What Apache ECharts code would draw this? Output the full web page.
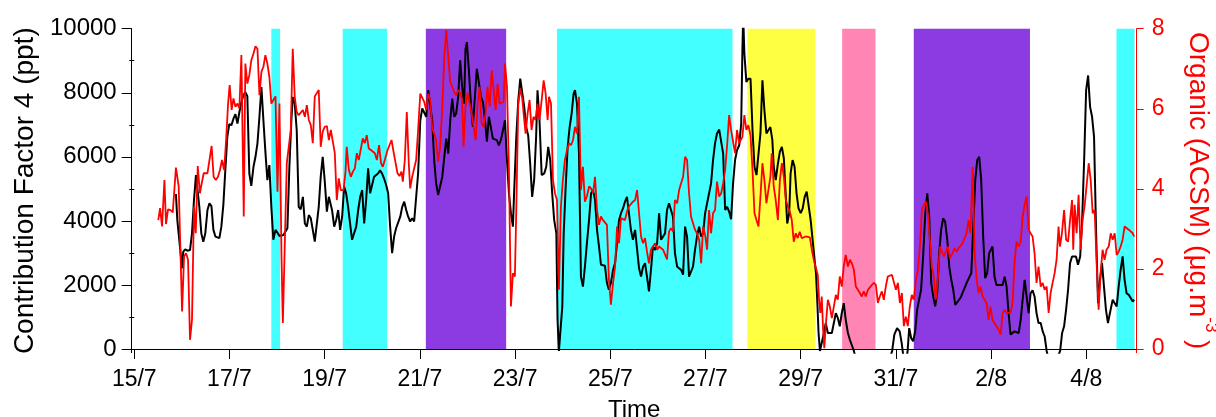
<!DOCTYPE html>
<html>
<head>
<meta charset="utf-8">
<script src="https://cdn.jsdelivr.net/npm/echarts@6/dist/echarts.min.js"></script>
<style>
html,body{margin:0;padding:0;background:#fff;}
#chart{width:1216px;height:417px;}
</style>
</head>
<body>
<div id="chart"></div>
<script>
// Time in hours since 15/7 00:00
var xTickHours = [0,48,96,144,192,240,288,336,384,432,480];
var xTickLabels = ['15/7','17/7','19/7','21/7','23/7','25/7','27/7','29/7','31/7','2/8','4/8'];
var leftTicks = [0,2000,4000,6000,8000,10000];
var leftMinorTicks = [1000,3000,5000,7000,9000];
var rightTicks = [0,2,4,6,8];

// shaded periods [startHour, endHour, colour key]
var bandStart = [69.1,105.1,147.0,213.1,309.1,356.9,393.0,495.2];
var bandEnd   = [73.5,127.5,187.5,301.6,343.4,373.7,451.6,504.3];
var bandKind  = ['cyan','cyan','purple','cyan','yellow','pink','purple','cyan'];

// Contribution Factor 4 (ppt): [hour, value]
var factor4 = [[21.0,4840],[21.7,4030],[23.0,3200],[24.1,2520],[24.7,3040],[25.7,3110],[26.8,3070],[28.1,3090],[29.1,3610],[30.1,4650],[31.1,5430],[32.0,5380],[32.8,4440],[33.8,3610],[34.8,3350],[35.8,3610],[36.9,4340],[37.9,4550],[38.9,4460],[39.9,3720],[40.9,3510],[41.9,3490],[42.9,3460],[43.9,3820],[44.9,4500],[45.9,5580],[46.9,6620],[47.9,7020],[49.0,6990],[50.0,7190],[51.0,7330],[52.0,7040],[53.0,7400],[54.0,7710],[55.0,7920],[56.0,8020],[57.0,7890],[58.0,5480],[59.0,5090],[60.1,5690],[61.1,6000],[62.1,6420],[63.1,7250],[64.1,8180],[65.1,7140],[66.1,6160],[67.1,5270],[68.1,5740],[69.1,4440],[70.1,3410],[71.2,3720],[72.2,3630],[73.2,3530],[74.2,3560],[75.2,3560],[76.2,3590],[77.2,3770],[78.2,5690],[79.2,7140],[79.9,7870],[80.9,7660],[81.9,6830],[82.9,4440],[83.9,4360],[85.0,4750],[86.0,3920],[87.0,3820],[88.0,4180],[89.0,4080],[90.0,3720],[91.0,3350],[92.0,3300],[93.0,4440],[94.0,5380],[95.0,6000],[96.0,5270],[97.1,4290],[98.1,4750],
[99.7,4340],[100.8,3820],[101.8,4030],[102.8,4340],[103.8,3720],[104.8,4130],[105.8,5070],[106.8,4860],[107.8,4440],[108.8,3920],[109.8,3410],[110.8,3410],[111.9,3820],[112.9,4340],[113.9,4750],[114.9,4960],[115.9,3920],[116.9,4650],[117.9,5640],[118.9,4860],[119.9,4810],[120.9,5380],[121.9,5430],[122.9,5480],[123.9,5580],[124.9,5480],[125.9,5330],[127.0,5120],[128.0,4860],[129.0,3820],[130.0,2990],[131.0,3510],[132.0,3770],[133.0,3770],[134.1,4130],[135.1,4440],[136.1,4600],[137.1,4340],[138.1,4130],[139.1,3980],[140.1,4080],[141.1,3980],[142.1,3980],[143.1,5480],[144.2,7140],[145.2,7510],[146.2,7450],[147.2,7250],[148.2,8080],[149.2,8020],[150.2,7140],[151.2,5900],[152.2,5170],[153.2,4810],[154.2,4810],[155.3,5380],[156.3,6000],[157.3,6570],[158.3,6100],[159.3,7140],[160.3,7820],[161.3,7250],[162.3,7350],[163.3,7870],[164.3,9010],[165.3,8180],[166.3,7660],[167.0,9370],[167.7,9580],[168.7,8700],[169.7,7660],[170.7,6930],[171.7,6990],[172.7,8750],[173.7,8800],[174.8,7870],[175.8,7710],[176.8,7140],[177.8,6470],[178.8,7250],[179.8,7300],[180.8,6570],[181.8,6620],[182.8,6520],[183.8,6360],[184.8,6520],[185.9,6830],[186.9,7140],[187.9,5900],[188.9,4860],[189.9,4240],[190.9,3820],[191.5,4860],[192.6,6620],[193.6,7760],[194.6,8440],[195.6,8390],[196.6,7560],[197.6,6930],[198.6,6670],[199.6,5790],[200.6,4750],[201.6,5270],[202.6,6620],[203.3,8080],[204.3,7140],[205.4,5430],
[206.7,5480],[207.7,5690],[208.7,6310],[209.7,5900],[210.7,4860],[211.7,4030],[212.8,3610],[213.4,910],[214.1,-60],[215.1,-60],[215.8,1330],[216.5,3610],[217.5,5070],[218.5,6310],[219.5,6930],[220.5,7350],[221.5,7970],[222.2,8080],[223.2,7660],[224.2,6100],[225.2,2260],[226.2,1950],[227.2,2570],[228.2,3300],[229.3,4030],[230.3,4860],[231.3,4960],[232.3,4650],[233.3,3720],[234.3,3200],[235.3,2630],[236.3,2570],[237.3,2600],[238.3,2060],[239.3,1850],[240.3,2060],[241.4,2470],[242.4,2680],[243.4,3300],[244.4,4030],[245.4,4240],[246.4,4390],[247.4,4600],[248.4,4750],[249.4,4240],[250.4,3720],[251.4,3410],[252.5,3720],[253.5,3770],[254.5,2520],[255.5,2260],[256.5,2570],[257.5,2680],[258.5,2260],[259.5,1800],[260.5,2470],[261.5,3200],[262.6,3090],[263.6,3300],[264.6,4240],[265.6,3410],[266.6,3410],[267.6,3610],[268.6,4340],[269.6,4550],[270.6,4600],[271.6,4130],[272.6,2990],[273.7,2570],[274.7,2520],[275.7,2470],[276.7,2320],[277.7,3820],[278.7,3510],[279.7,2260],[280.7,2210],[281.7,2570],[282.7,3090],[283.7,3510],[284.8,3820],[285.8,3510],[286.8,3610],[287.8,4240],[288.8,4550],[289.8,4600],[290.8,5170],[291.8,5900],[292.8,6420],[293.8,6730],[294.9,6850],[295.9,6880],[296.9,6100],[297.9,4340],[298.9,4440],[299.9,4290],[300.9,4050],[301.9,5170],[302.9,5900],[303.9,6210],[305.0,6360],[306.0,7040],[306.6,9320],[307.0,10400],
[307.6,9220],[308.6,8340],[309.6,8440],[310.7,8440],[311.7,6830],[312.7,5690],[313.7,5430],[314.7,5430],[315.7,6730],[316.7,8390],[317.7,7450],[318.7,6730],[319.7,6830],[320.7,6930],[321.7,6520],[322.4,5690],[323.4,5270],[324.5,5790],[325.5,6160],[326.5,6310],[327.5,5950],[328.5,4750],[329.2,3920],[330.2,4240],[330.9,5480],[331.9,5900],[332.9,5690],[333.9,4860],[334.9,4390],[336.0,4240],[337.0,4390],[338.0,4750],[339.0,4910],[340.0,4860],[341.0,4030],[342.0,3410],[343.0,2780],[343.7,2370],[344.4,1430],[345.0,500],[345.7,-60],[346.7,-60],[347.7,500],[348.6,810],[349.7,500],[350.7,450],[351.7,500],[352.7,810],[353.7,1120],[354.7,970],[355.7,710],[356.7,1120],[357.7,1430],[358.7,910],[359.8,500],[360.8,290],[361.8,290],[362.8,-60],[363.4,-200],[367.0,-900],[372.0,-1400],[378.0,-900],[382.1,-60],[383.2,450],[384.6,650],[385.9,550],[386.9,190],[387.6,-150],[388.9,-500],[389.9,-60],[390.7,650],[391.7,340],[392.7,240],[393.7,550],[394.7,1230],[395.7,1540],[396.7,1850],[397.8,2990],[398.8,4240],[399.8,4860],[400.8,4130],[401.8,2060],[402.8,1640],[403.8,1330],[404.8,1740],[405.8,2990],[406.8,3720],[407.8,4080],[408.8,3980],[409.9,3410],[410.9,2570],[411.9,2160],[412.9,1850],[413.9,1380],[414.9,1380],[415.9,1540],[416.9,1640],[417.9,1800],[418.9,1950],[420.0,2110],[421.0,2060],[422.0,2370],[423.0,3820],[424.0,5270],[425.0,5900],[426.0,6000],[427.0,5270],[428.0,3510],[429.0,2210],[430.0,2370],[431.0,2990],
[432.7,3200],[433.7,2260],[434.7,2000],[435.8,2000],[436.8,1950],[437.8,2000],[438.8,2260],[439.8,1950],[440.8,1120],[441.8,450],[442.8,390],[443.8,550],[444.8,600],[445.9,500],[446.9,910],[447.9,1540],[448.9,2160],[449.9,1640],[450.9,1120],[451.9,1740],[452.9,1830],[453.9,1640],[454.9,1120],[455.9,810],[457.0,810],[458.0,550],[459.0,390],[460.0,-60],[462.0,-600],[464.6,-400],[466.8,-60],[467.8,500],[468.8,710],[469.8,1230],[470.8,1850],[471.8,2680],[472.8,2890],[473.8,2890],[474.8,2890],[475.8,2630],[476.9,2890],[477.9,4030],[478.9,5900],[479.9,8080],[480.9,8540],[481.9,7560],[482.9,7250],[483.9,6620],[484.9,3720],[485.9,1430],[486.9,2160],[487.9,2680],[488.9,1950],[489.9,1230],[490.9,810],[491.9,1120],[493.3,1540],[494.3,1430],[495.3,1330],[496.3,1950],[497.3,2470],[498.3,2890],[499.3,2160],[500.3,1740],[501.4,1690],[502.4,1590],[503.4,1480],[504.1,1540]];

// Organic (ACSM) µg/m3: [hour, value]
var organic = [[12.1,3.22],[13.0,3.52],[14.0,3.06],[15.2,4.22],[16.0,3.12],[17.0,3.49],[18.3,3.47],[19.4,3.41],[21.0,4.53],[22.4,4.06],[24.1,0.94],[25.1,2.31],[26.1,2.39],[27.1,2.23],[28.1,0.23],[29.1,0.73],[30.1,3.56],[31.0,2.89],[32.0,4.57],[33.1,3.89],[34.0,4.14],[35.0,4.39],[36.0,4.35],[36.9,4.39],[37.9,4.72],[39.0,5.07],[40.0,4.30],[41.1,4.22],[42.2,4.30],[43.2,4.47],[44.2,4.72],[45.3,4.47],[46.3,5.22],[47.3,6.13],[48.1,6.59],[49.1,5.97],[50.0,6.26],[51.0,6.05],[52.0,6.13],[53.0,6.01],[54.0,7.34],[55.2,3.31],[56.0,7.13],[57.0,6.63],[58.0,6.84],[59.0,7.21],[60.1,7.38],[61.1,7.56],[62.1,7.50],[63.1,6.34],[64.1,6.92],[65.1,7.05],[66.1,7.34],[67.1,7.13],[68.1,6.80],[69.1,6.13],[70.1,6.17],[71.2,6.31],[72.2,3.93],[73.2,6.13],[74.2,2.39],[74.9,0.65],[75.9,0.69],[76.9,4.64],[77.9,4.68],[78.9,5.47],[79.9,7.50],[80.9,6.30],[81.9,5.92],[82.9,5.84],[83.9,5.88],[85.0,5.97],[86.0,5.80],[87.0,6.09],[88.0,5.72],[89.0,5.59],[90.0,5.14],[91.0,6.31],[92.0,6.34],[93.0,6.47],[94.0,5.05],[95.0,5.43],[96.0,5.55],[97.1,5.57],[98.1,5.22],[99.1,5.47],
[100.1,5.43],[101.1,4.89],[102.1,3.72],[103.1,4.26],[104.1,3.97],[105.5,3.97],[106.5,4.43],[107.1,5.05],[108.2,4.47],[109.2,4.30],[110.2,4.43],[111.2,4.51],[112.2,4.89],[113.2,4.72],[114.2,4.76],[115.2,5.26],[116.2,5.14],[117.2,5.34],[118.2,5.01],[119.3,4.97],[120.3,5.01],[121.3,4.89],[122.3,4.72],[123.4,5.09],[124.4,4.64],[125.3,4.55],[126.3,4.72],[127.7,4.97],[128.7,4.93],[129.7,5.22],[130.7,4.93],[131.7,4.89],[132.7,4.39],[133.7,4.32],[134.7,4.43],[135.4,4.18],[136.4,4.72],[137.4,5.92],[138.4,4.64],[139.1,4.01],[140.1,4.30],[141.1,4.51],[142.1,4.72],[143.1,5.47],[144.2,6.38],[145.2,6.42],[146.2,6.17],[147.2,5.97],[148.2,6.38],[149.2,6.22],[150.2,5.51],[151.2,5.38],[152.2,5.22],[153.2,4.68],[154.2,5.05],[155.3,6.05],[156.3,7.30],[157.3,7.96],[158.3,7.30],[159.3,6.67],[160.3,6.71],[161.3,6.42],[162.3,6.34],[163.3,6.47],[164.3,6.40],[165.3,6.22],[166.0,5.05],[167.0,6.05],[168.0,6.40],[169.1,6.13],[170.1,5.88],[171.1,5.55],[172.1,5.22],[173.1,6.13],[174.1,6.55],[175.1,5.63],[176.1,5.55],[177.1,5.88],[178.1,6.55],[179.2,6.05],[180.2,6.96],[181.2,6.47],[182.2,5.97],[183.2,6.63],[184.2,6.13],[185.2,6.09],[186.2,6.17],[186.9,7.13],[187.9,6.55],[188.9,4.47],[189.9,1.06],[190.9,1.89],[191.9,1.81],[192.6,3.47],[193.6,6.13],[194.6,6.51],[195.6,6.26],[196.6,5.72],[197.3,5.38],[198.3,5.88],[199.3,6.22],[200.3,5.47],[201.3,5.80],[202.3,5.72],[203.3,6.13],[204.3,5.72],
[205.4,6.22],[206.4,6.71],[207.4,6.38],[208.4,5.72],[209.1,6.30],[210.1,6.13],[211.1,4.22],[212.1,3.89],[213.1,3.72],[214.1,1.48],[215.1,3.56],[216.1,4.22],[217.1,4.72],[218.2,4.97],[219.2,5.14],[220.2,5.09],[221.2,5.22],[222.2,5.55],[223.2,5.38],[224.2,6.30],
[225.2,3.97],[226.2,4.55],[227.2,3.68],[228.2,3.81],[229.3,4.06],[230.3,4.01],[231.3,3.89],[232.3,4.30],[233.3,3.47],[234.3,3.10],[235.3,3.31],[236.3,3.22],[237.3,3.18],[238.3,3.10],[239.3,1.73],[240.3,1.11],[241.4,1.65],[242.4,2.06],[243.4,3.06],[244.4,2.64],[245.4,3.27],[246.4,3.31],[247.4,3.22],[248.4,3.43],[249.4,3.56],[250.4,3.60],[251.4,3.68],[252.5,3.72],[253.5,3.97],[254.5,3.39],[255.5,2.81],[256.5,2.64],[257.5,2.77],[258.5,2.43],[259.5,2.14],[260.5,2.48],[261.5,2.56],[262.6,2.64],[263.6,2.48],[264.6,2.56],[265.6,2.56],[266.6,2.48],[267.6,2.48],[268.6,2.24],[269.6,2.93],[270.6,3.02],[271.6,2.93],[272.6,3.72],[273.7,3.64],[274.7,3.97],[275.7,4.14],[276.7,4.30],[277.7,4.80],[278.7,4.72],[279.7,3.89],[280.7,3.31],[281.7,3.35],[282.7,2.98],[283.7,2.89],[284.8,2.73],[285.8,2.14],[286.8,3.06],[287.8,2.85],[288.8,2.48],[289.8,3.47],[290.8,2.89],[291.8,3.39],[292.8,3.47],[293.8,4.18],[294.9,3.81],[295.9,3.89],[296.9,4.14],[297.9,4.47],[298.9,5.09],[299.9,5.84],[300.9,5.47],[301.9,5.51],[302.9,4.89],[303.9,5.47],[305.0,5.14],
[306.6,5.30],[307.6,5.84],[308.6,5.47],[309.6,5.59],[310.7,5.34],[311.7,4.47],[312.7,3.39],[313.7,3.22],[314.7,3.06],[315.7,3.81],[316.7,4.64],[317.7,4.22],[318.7,3.64],[319.7,3.64],[320.7,4.30],[321.4,4.89],[322.4,4.06],[323.4,3.72],[324.5,3.22],[325.5,4.22],[326.5,4.64],[327.5,4.30],[328.5,3.72],[329.5,3.56],[330.5,3.43],[331.5,3.22],[332.5,2.68],[333.5,2.89],[334.5,2.77],[335.5,2.93],[336.5,2.77],[337.5,2.81],[338.6,2.81],[339.6,2.77],[340.6,2.79],[341.6,2.48],[342.6,2.23],[343.6,2.19],[344.6,1.85],[345.3,1.19],[345.9,0.90],[346.6,1.31],[347.3,0.48],[347.9,0.02],[348.6,0.57],[349.7,1.23],[350.7,1.06],[351.7,0.77],[352.7,1.06],[353.7,1.35],[354.7,1.23],[355.7,1.81],[356.7,1.56],[357.7,2.06],[358.7,2.35],[359.8,2.06],[360.8,2.23],[361.8,2.14],[362.8,1.98],[363.8,1.56],[364.8,1.56],[365.8,1.40],[366.8,1.31],[367.8,1.44],[368.8,1.31],[369.9,1.48],[370.9,1.52],[371.9,1.60],[372.9,1.65],[373.9,1.60],[374.9,1.15],[375.9,1.31],[376.9,1.44],[377.9,1.23],[378.9,1.56],[379.9,1.81],[380.9,1.77],[382.0,1.85],[383.0,1.89],[384.0,1.48],[385.0,1.65],[386.0,1.15],[387.0,1.40],[388.0,0.57],[389.0,0.81],[390.0,0.57],[391.0,1.06],[392.0,1.35],[393.0,1.23],[394.1,1.73],[395.1,1.98],[396.1,2.56],[397.1,3.47],[398.1,3.60],[399.1,3.68],[400.1,3.39],[401.1,2.73],[402.1,2.06],[403.1,1.81],[404.1,1.23],[405.2,1.81],[406.2,2.56],[407.2,2.60],[408.2,2.31],[409.2,2.31],[410.2,2.56],[411.2,2.27],
[412.6,2.40],[413.6,2.52],[414.6,2.43],[415.6,2.52],[416.6,2.48],[417.6,2.64],[418.6,2.77],[419.6,2.89],[420.6,3.22],[421.6,2.89],[422.7,4.55],[423.7,2.39],[424.7,1.73],[425.7,1.40],[426.7,1.56],[427.7,1.31],[428.7,1.27],[429.7,1.15],[430.7,0.73],[431.7,1.06],[432.7,0.73],[433.7,0.65],[434.7,0.57],[435.8,0.48],[436.8,0.36],[437.8,0.90],[438.8,0.98],[439.8,0.90],[440.8,0.94],[441.8,0.90],[442.8,1.15],[443.8,2.14],[444.8,2.68],[445.9,2.56],[446.9,2.68],[447.9,3.31],[448.9,3.60],[449.9,3.81],[450.9,2.98],[451.9,2.89],[452.9,2.81],[453.9,2.39],[454.9,1.65],[455.9,2.06],[457.0,1.56],[458.0,1.65],[459.0,1.48],[460.0,1.56],[461.0,0.90],[462.0,1.40],[463.0,1.65],[464.0,1.89],[465.0,2.23],[466.0,3.06],[466.7,2.56],[467.7,2.89],[468.8,3.47],[469.8,2.73],[470.8,2.68],[471.8,3.22],[472.8,3.72],[473.4,2.48],[474.1,3.60],[475.1,2.89],[476.1,3.85],[477.1,2.48],[478.1,3.22],[479.1,3.56],[480.1,4.06],[481.2,4.64],[482.2,4.22],[483.2,3.39],[484.2,3.47],[485.2,2.14],[486.2,0.98],[487.2,1.89],[488.2,2.48],[489.2,2.23],[490.2,2.48],[491.3,2.56],[492.3,2.89],[493.3,2.73],[494.3,2.89],[495.3,2.35],[496.3,2.43],[497.3,2.56],[498.3,2.73],[499.3,3.06],[500.3,3.02],[501.4,2.98],[502.4,3.02],[503.4,2.89],[504.1,2.81]];

var bandColors = {cyan:'#43FFFF', purple:'#8C3BE3', yellow:'#FFFF41', pink:'#FF85B5'};
var FONT = "'Liberation Sans', Arial, sans-serif";

var areas = bandStart.map(function(s, i){
  return [{xAxis: s, yAxis: 0, itemStyle: {color: bandColors[bandKind[i]]}}, {xAxis: bandEnd[i], yAxis: 10000}];
});

var chart = echarts.init(document.getElementById('chart'), null, {renderer: 'canvas'});
chart.setOption({
  animation: false,
  backgroundColor: '#ffffff',
  grid: {left: 131.7, right: 79.3, top: 28.7, bottom: 64.3, containLabel: false, outerBoundsMode: 'none'},
  xAxis: {
    type: 'value', min: -1.3, max: 505.4,
    splitLine: {show: false},
    axisLine: {show: true, lineStyle: {color: '#000', width: 1}},
    axisTick: {show: true, customValues: xTickHours, length: 10, lineStyle: {color: '#000', width: 1}},
    axisLabel: {customValues: xTickHours, fontSize: 23, color: '#000', fontFamily: FONT, margin: 15,
      formatter: function(v){ var i = xTickHours.indexOf(Math.round(v)); return i >= 0 ? xTickLabels[i] : ''; }},
    name: 'Time', nameLocation: 'middle', nameGap: 46,
    nameTextStyle: {fontSize: 24, color: '#000', fontFamily: FONT}
  },
  yAxis: [
    {
      type: 'value', position: 'left', min: -115.6, max: 10000,
      splitLine: {show: false},
      axisLine: {show: true, onZero: false, lineStyle: {color: '#000', width: 1}},
      axisTick: {show: true, customValues: leftTicks, length: 10, lineStyle: {color: '#000', width: 1}},
      axisLabel: {customValues: leftTicks, fontSize: 24, color: '#000', fontFamily: FONT, margin: 15,
        formatter: function(v){ return String(Math.round(v)); }},
      name: 'Contribution Factor 4 (ppt)', nameLocation: 'middle', nameGap: 92, nameRotate: 90,
      nameTextStyle: {fontSize: 28, color: '#000', fontFamily: FONT}
    },
    {
      type: 'value', position: 'right', min: -0.0925, max: 8,
      splitLine: {show: false},
      axisLine: {show: true, onZero: false, lineStyle: {color: '#FF0000', width: 1}},
      axisTick: {show: true, customValues: rightTicks, length: 7, lineStyle: {color: '#FF0000', width: 1}},
      axisLabel: {customValues: rightTicks, fontSize: 23, color: '#FF0000', fontFamily: FONT, margin: 15,
        formatter: function(v){ return String(Math.round(v)); }},
      name: 'Organic (ACSM) (μg.m{sup|-3} )', nameLocation: 'middle', nameGap: 34, nameRotate: -90,
      nameTextStyle: {fontSize: 28, color: '#FF0000', fontFamily: FONT, lineHeight: 44,
        rich: {sup: {fontSize: 17, color: '#FF0000', fontFamily: FONT, verticalAlign: 'top', lineHeight: 18}}}
    },
    {
      type: 'value', position: 'left', min: -115.6, max: 10000,
      splitLine: {show: false},
      axisLine: {show: false},
      axisTick: {show: true, customValues: leftMinorTicks, length: 5, lineStyle: {color: '#000', width: 1}},
      axisLabel: {show: false}
    }
  ],
  series: [
    {
      type: 'line', xAxisIndex: 0, yAxisIndex: 0, data: [], z: 1, silent: true,
      markArea: {silent: true, data: areas}
    },
    {
      name: 'Factor 4', type: 'line', xAxisIndex: 0, yAxisIndex: 0, data: factor4,
      showSymbol: false, symbol: 'none', clip: true, z: 3,
      lineStyle: {color: '#000000', width: 2}
    },
    {
      name: 'Organic', type: 'line', xAxisIndex: 0, yAxisIndex: 1, data: organic,
      showSymbol: false, symbol: 'none', clip: true, z: 4,
      lineStyle: {color: '#FF0000', width: 1.8}
    }
  ]
});
</script>
</body>
</html>
